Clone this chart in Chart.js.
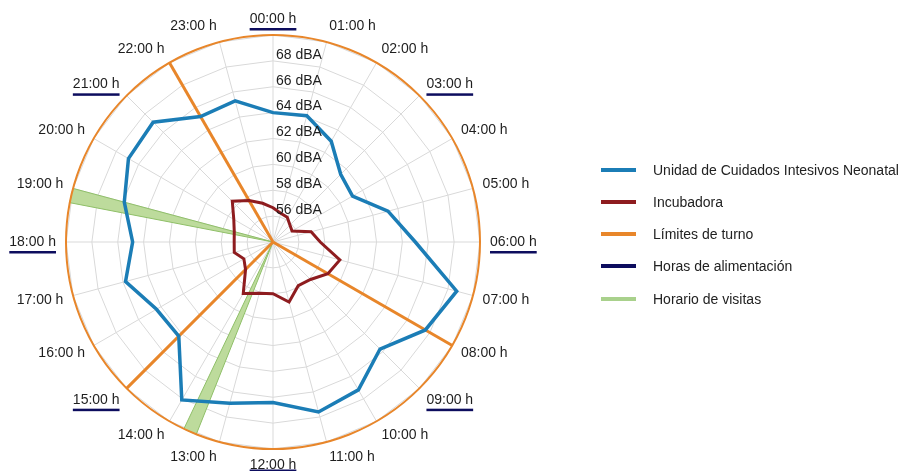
<!DOCTYPE html>
<html><head><meta charset="utf-8">
<script src="https://cdn.jsdelivr.net/npm/chart.js@4/dist/chart.umd.min.js"></script>
<style>
html,body{margin:0;padding:0;background:#fff;}
#wrap{position:relative;width:898px;height:473px;overflow:hidden;}
canvas{position:absolute;left:0;top:0;}
#lg{position:absolute;left:601px;top:0;font:14px "Liberation Sans",Arial,sans-serif;color:#222;}
.item{position:absolute;left:0;white-space:nowrap;height:16px;width:297px;}
.sw{position:absolute;left:0;top:6px;width:35px;height:4px;}
.lt{position:absolute;left:52px;top:0;line-height:16px;}
</style></head>
<body><div id="wrap"><canvas id="c" width="898" height="473"></canvas><div id="lg"></div></div>
<script>
const hourLabels = ['00:00 h','01:00 h','02:00 h','03:00 h','04:00 h','05:00 h','06:00 h','07:00 h','08:00 h','09:00 h','10:00 h','11:00 h','12:00 h','13:00 h','14:00 h','15:00 h','16:00 h','17:00 h','18:00 h','19:00 h','20:00 h','21:00 h','22:00 h','23:00 h'];
const ucinValues = [64.0,64.1,63.0,61.4,61.1,63.2,65.0,68.7,67.6,65.7,67.2,67.6,66.4,66.9,68.1,64.3,64.4,65.8,64.85,65.9,66.9,67.1,65.2,65.3];
const incubadoraValues = [56.65,56.3,56.2,55.85,55.7,57.05,57.65,59.35,58.9,58.1,57.9,58.8,58.0,58.1,58.6,57.0,56.6,57.1,57.0,57.1,57.5,58.45,57.7,57.1];
const tickValues = [56,58,60,62,64,66,68];
const tickUnit = ' dBA';
const scaleMin = 54;
const scaleMax = 70;
const feedingHours = [0,3,6,9,12,15,18,21];
const shiftLimits = [8,15,22];
const visitStart = [13.45,18.73];
const visitEnd = [13.7,19.0];
const seriesNames = ['Unidad de Cuidados Intesivos Neonatal','Incubadora','Límites de turno','Horas de alimentación','Horario de visitas'];

const BLUE='#1b7db6', RED='#8e1c1f', ORANGE='#e8862a', NAVY='#0d0d5e', GREEN='#bddb9c', GREEN_EDGE='#8fbf68';
const seriesColors=[BLUE,RED,ORANGE,NAVY,'#a9d18c'];
const FONT='14px "Liberation Sans", Arial, sans-serif';

const decor={
  id:'decor',
  beforeDatasetsDraw(chart){
    const s=chart.scales.r, ctx=chart.ctx;
    const R=s.getDistanceFromCenterForValue(scaleMax);
    ctx.save();
    for(let i=0;i<visitStart.length;i++){
      const a=s.getPointPosition(visitStart[i],R), b=s.getPointPosition(visitEnd[i],R);
      ctx.beginPath();ctx.moveTo(s.xCenter,s.yCenter);ctx.lineTo(a.x,a.y);
      ctx.arc(s.xCenter,s.yCenter,R,a.angle,b.angle);ctx.closePath();
      ctx.fillStyle=GREEN;ctx.fill();ctx.strokeStyle=GREEN_EDGE;ctx.lineWidth=1;ctx.stroke();
    }
    ctx.strokeStyle=ORANGE;
    ctx.beginPath();ctx.arc(s.xCenter,s.yCenter,R,0,Math.PI*2);ctx.lineWidth=2;ctx.stroke();
    ctx.lineWidth=3;
    for(const h of shiftLimits){
      const p=s.getPointPosition(h,R);
      ctx.beginPath();ctx.moveTo(s.xCenter,s.yCenter);ctx.lineTo(p.x,p.y);ctx.stroke();
    }
    ctx.restore();
  },
  afterDraw(chart){
    const s=chart.scales.r, ctx=chart.ctx;
    const R=s.getDistanceFromCenterForValue(scaleMax);
    ctx.save();
    ctx.font=FONT;ctx.fillStyle='#1e1e1e';ctx.textBaseline='middle';
    ctx.textAlign='left';
    for(const v of tickValues){
      const r=s.getDistanceFromCenterForValue(v);
      ctx.fillText(v+tickUnit,s.xCenter+3,s.yCenter-r-6);
    }
    const n=hourLabels.length;
    for(let i=0;i<n;i++){
      const p=s.getPointPosition(i,R+10);
      const th=i*2*Math.PI/n;
      let align='center';
      if(i>0&&i<n/2)align='left';else if(i>n/2)align='right';
      const y=p.y-6*Math.cos(th);
      ctx.textAlign=align;ctx.fillStyle='#1e1e1e';
      ctx.fillText(hourLabels[i],p.x,y);
      if(feedingHours.includes(i)){
        const w=ctx.measureText(hourLabels[i]).width;
        let x0=p.x; if(align==='center')x0=p.x-w/2; else if(align==='right')x0=p.x-w;
        let uy=y+9, th2=2.5;
        if(uy+th2>chart.height){uy=chart.height-3.5;th2=1.5;}
        ctx.fillStyle=NAVY;ctx.fillRect(x0,uy,w,th2);
      }
    }
    ctx.restore();
  }
};

new Chart(document.getElementById('c'),{
  type:'radar',
  data:{labels:hourLabels,datasets:[
    {label:seriesNames[0],data:ucinValues,borderColor:BLUE,borderWidth:3.5,pointRadius:0,fill:false,tension:0},
    {label:seriesNames[1],data:incubadoraValues,borderColor:RED,borderWidth:3,pointRadius:0,fill:false,tension:0}
  ]},
  options:{
    responsive:false,animation:false,devicePixelRatio:1,
    layout:{padding:{left:66,top:35,right:417,bottom:23}},
    plugins:{legend:{display:false},tooltip:{enabled:false}},
    elements:{line:{borderJoinStyle:'miter'}},
    scales:{r:{min:scaleMin,max:scaleMax,
      ticks:{display:false,stepSize:2},
      pointLabels:{display:false},
      grid:{color:'#d9d9d9',lineWidth:1},
      angleLines:{color:'#d9d9d9',lineWidth:1}
    }}
  },
  plugins:[decor]
});

const lg=document.getElementById('lg');
const rowCenters=[169.5,201.8,234.1,266.4,298.7];
seriesNames.forEach((nm,i)=>{
  const d=document.createElement('div');d.className='item';d.style.top=(rowCenters[i]-8)+'px';
  const sw=document.createElement('div');sw.className='sw';sw.style.background=seriesColors[i];
  const t=document.createElement('div');t.className='lt';t.textContent=nm;
  d.appendChild(sw);d.appendChild(t);lg.appendChild(d);
});
</script>
</body></html>
